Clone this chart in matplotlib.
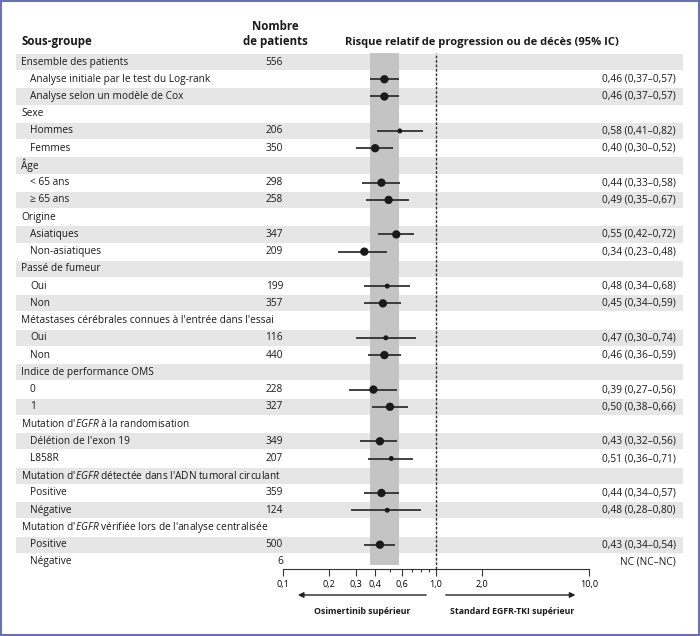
import numpy as np
import matplotlib
matplotlib.use("Agg")
import matplotlib.pyplot as plt
import matplotlib.transforms as mtransforms
from matplotlib.patches import Rectangle
from matplotlib.ticker import NullFormatter

plt.rcParams['font.family'] = ['Open Sans', 'DejaVu Sans']
plt.rcParams['mathtext.fontset'] = 'custom'
plt.rcParams['mathtext.rm'] = 'Open Sans'
plt.rcParams['mathtext.it'] = 'Open Sans:italic'

# données
labels = ["Ensemble des patients",
          "Analyse initiale par le test du Log-rank",
          "Analyse selon un modèle de Cox",
          "Sexe", "Hommes", "Femmes",
          "Âge", "< 65 ans", "≥ 65 ans",
          "Origine", "Asiatiques", "Non-asiatiques",
          "Passé de fumeur", "Oui", "Non",
          "Métastases cérébrales connues à l'entrée dans l'essai", "Oui", "Non",
          "Indice de performance OMS", "0", "1",
          "Mutation d'$\\mathit{EGFR}$ à la randomisation", "Délétion de l'exon 19", "L858R",
          "Mutation d'$\\mathit{EGFR}$ détectée dans l'ADN tumoral circulant", "Positive", "Négative",
          "Mutation d'$\\mathit{EGFR}$ vérifiée lors de l'analyse centralisée", "Positive", "Négative"]
indent = [0, 1, 1, 0, 1, 1, 0, 1, 1, 0, 1, 1, 0, 1, 1, 0, 1, 1, 0, 1, 1, 0, 1, 1, 0, 1, 1, 0, 1, 1]
n_pat = ["556", "", "", "", "206", "350", "", "298", "258", "", "347", "209", "", "199", "357",
         "", "116", "440", "", "228", "327", "", "349", "207", "", "359", "124", "", "500", "6"]
hr = [np.nan, 0.46, 0.46, np.nan, 0.58, 0.40, np.nan, 0.44, 0.49, np.nan, 0.55, 0.34, np.nan, 0.48, 0.45,
      np.nan, 0.47, 0.46, np.nan, 0.39, 0.50, np.nan, 0.43, 0.51, np.nan, 0.44, 0.48, np.nan, 0.43, np.nan]
lo = [np.nan, 0.37, 0.37, np.nan, 0.41, 0.30, np.nan, 0.33, 0.35, np.nan, 0.42, 0.23, np.nan, 0.34, 0.34,
      np.nan, 0.30, 0.36, np.nan, 0.27, 0.38, np.nan, 0.32, 0.36, np.nan, 0.34, 0.28, np.nan, 0.34, np.nan]
hi = [np.nan, 0.57, 0.57, np.nan, 0.82, 0.52, np.nan, 0.58, 0.67, np.nan, 0.72, 0.48, np.nan, 0.68, 0.59,
      np.nan, 0.74, 0.59, np.nan, 0.56, 0.66, np.nan, 0.56, 0.71, np.nan, 0.57, 0.80, np.nan, 0.54, np.nan]
hr_txt = ["", "0,46 (0,37–0,57)", "0,46 (0,37–0,57)", "", "0,58 (0,41–0,82)", "0,40 (0,30–0,52)",
          "", "0,44 (0,33–0,58)", "0,49 (0,35–0,67)", "", "0,55 (0,42–0,72)", "0,34 (0,23–0,48)",
          "", "0,48 (0,34–0,68)", "0,45 (0,34–0,59)", "", "0,47 (0,30–0,74)", "0,46 (0,36–0,59)",
          "", "0,39 (0,27–0,56)", "0,50 (0,38–0,66)", "", "0,43 (0,32–0,56)", "0,51 (0,36–0,71)",
          "", "0,44 (0,34–0,57)", "0,48 (0,28–0,80)", "", "0,43 (0,34–0,54)", "NC (NC–NC)"]
big = [1, 1, 1, 1, 0, 1, 1, 1, 1, 1, 1, 1, 1, 0, 1, 1, 0, 1, 1, 1, 1, 1, 1, 0, 1, 1, 0, 1, 1, 1]
xticks = [0.1, 0.2, 0.3, 0.4, 0.6, 1.0, 2.0, 10.0]
xticklabels = ["0,1", "0,2", "0,3", "0,4", "0,6", "1,0", "2,0", "10,0"]

W, H = 700, 636
rows = np.arange(len(labels))
hr = np.array(hr); lo = np.array(lo); hi = np.array(hi)

fig = plt.figure(figsize=(7, 6.36), dpi=100)
ax = fig.add_axes([283 / W, 1 - 569 / H, 306 / W, (569 - 53.4) / H])
ax.patch.set_alpha(0)
ax.set_xscale('log')
ax.set_xlim(0.1, 10)
ax.set_ylim(29.41, -0.5)

trans = mtransforms.blended_transform_factory(fig.transFigure, ax.transData)

# bandes grises alternées
for r in rows[::2]:
    ax.add_patch(Rectangle((16 / W, r - 0.47), 667 / W, 0.94, transform=trans,
                           color='#e6e6e6', lw=0, clip_on=False, zorder=0))

# intervalle global
ax.fill_betweenx([-0.5, 29.2], lo[1], hi[1], color='#c4c4c4', lw=0, zorder=1)
ax.axvline(1.0, color='#333333', lw=1, ls=(0, (2, 1.2)), zorder=2)

ok = ~np.isnan(hr)
ax.hlines(rows[ok], lo[ok], hi[ok], color='#2a2a2a', lw=1.25, zorder=3)
sizes = np.where(np.array(big) == 1, 6.0, 3.6)
ax.scatter(hr[ok], rows[ok], s=sizes[ok] ** 2, color='#1a1a1a', lw=0, zorder=4)

for r in rows:
    x0 = 30 / W if indent[r] else 21 / W
    ax.text(x0, r, labels[r], transform=trans, ha='left', va='center', fontsize=7.3, color='#1a1a1a')
    if n_pat[r]:
        ax.text(283 / W, r, n_pat[r], transform=trans, ha='right', va='center', fontsize=7.3, color='#1a1a1a')
    if hr_txt[r]:
        ax.text(676 / W, r, hr_txt[r], transform=trans, ha='right', va='center', fontsize=7.3, color='#1a1a1a')

# axe
for s in ['top', 'left', 'right']:
    ax.spines[s].set_visible(False)
ax.spines['bottom'].set_color('#333333')
ax.spines['bottom'].set_linewidth(0.8)
ax.set_yticks([])
ax.set_xticks(xticks)
ax.set_xticklabels(xticklabels)
ax.set_xticks([0.5, 0.7, 0.8, 0.9], minor=True)
ax.xaxis.set_minor_formatter(NullFormatter())
ax.tick_params(axis='x', which='major', length=5, width=0.8, color='#333333', labelsize=6.5, pad=3)
ax.tick_params(axis='x', which='minor', length=2.5, width=0.8, color='#333333')

# flèches
ya = (569 - 595) / (569 - 53.4)
yt = (569 - 612) / (569 - 53.4)
ax.annotate('', xy=(0.12, ya), xytext=(0.9, ya), xycoords=('data', 'axes fraction'),
            textcoords=('data', 'axes fraction'),
            arrowprops=dict(arrowstyle='-|>', color='#222222', lw=1, mutation_scale=8))
ax.annotate('', xy=(8.5, ya), xytext=(1.11, ya), xycoords=('data', 'axes fraction'),
            textcoords=('data', 'axes fraction'),
            arrowprops=dict(arrowstyle='-|>', color='#222222', lw=1, mutation_scale=8))
ax.text(0.328, yt, "Osimertinib supérieur", transform=mtransforms.blended_transform_factory(ax.transData, ax.transAxes),
        ha='center', va='center', fontsize=6.3, fontweight='bold', color='#1a1a1a')
ax.text(3.13, yt, "Standard EGFR-TKI supérieur", transform=mtransforms.blended_transform_factory(ax.transData, ax.transAxes),
        ha='center', va='center', fontsize=6.3, fontweight='bold', color='#1a1a1a')

# en-têtes
fig.text(21 / W, 1 - 42 / H, "Sous-groupe", ha='left', va='center', fontsize=8.3, fontweight='bold', color='#1a1a1a')
fig.text(275 / W, 1 - 26 / H, "Nombre", ha='center', va='center', fontsize=8.3, fontweight='bold', color='#1a1a1a')
fig.text(275 / W, 1 - 42 / H, "de patients", ha='center', va='center', fontsize=8.3, fontweight='bold', color='#1a1a1a')
fig.text(482 / W, 1 - 42 / H, "Risque relatif de progression ou de décès (95% IC)", ha='center', va='center',
         fontsize=8.0, fontweight='bold', color='#1a1a1a')

# cadre
fig.add_artist(Rectangle((1 / W, 1 - 635 / H), 697.5 / W, 634.5 / H, transform=fig.transFigure,
                         fill=False, ec='#6b70ae', lw=1.5))

fig.savefig('out.png', dpi=100)
